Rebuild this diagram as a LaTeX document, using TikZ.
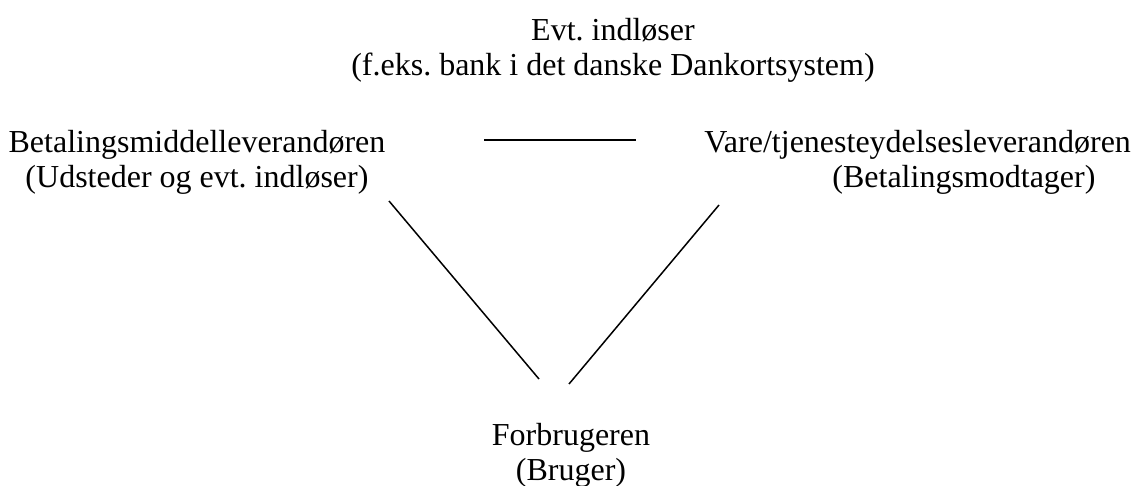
\documentclass[tikz,border=0pt]{standalone}
\usepackage{fontspec}
\setmainfont{Liberation Serif}
\usetikzlibrary{calc,positioning}
\frenchspacing

\tikzset{
  party/.style={inner sep=0pt, font=\fontsize{16}{17.5}\selectfont},
  link/.style={line width=0.75pt}
}

\begin{document}
\begin{tikzpicture}[x=0.5pt,y=-0.5pt]
\useasboundingbox (0,0) rectangle (1139,486);

\node[party, align=center, anchor=north] (indl) at (613,18)
  {Evt. indløser\\(f.eks. bank i det danske Dankortsystem)};
\node[party, align=center, anchor=north] (udst) at (197,130)
  {Betalingsmiddelleverandøren\\(Udsteder og evt. indløser)};
\node[party, align=left, anchor=north west] (vare) at (704,130)
  {Vare/tjenesteydelsesleverandøren\\\hspace*{64pt}(Betalingsmodtager)};
\node[party, align=center, anchor=north] (forb) at (571,423)
  {Forbrugeren\\(Bruger)};

% free ends of the three links
\coordinate (udst-r) at (484,140);
\coordinate (vare-l) at (636,140);
\coordinate (udst-b) at (389,201);
\coordinate (forb-l) at (539,379);
\coordinate (vare-b) at (719,205);
\coordinate (forb-r) at (569,384);

\draw[link, line width=1pt] (udst-r) -- (vare-l);
\draw[link] (udst-b) -- (forb-l);
\draw[link] (vare-b) -- (forb-r);
\end{tikzpicture}
\end{document}
